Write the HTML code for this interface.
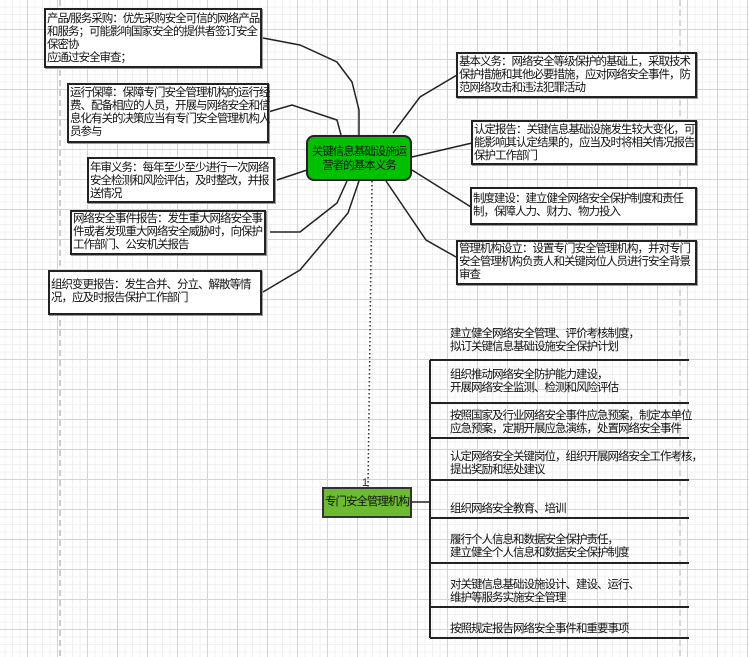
<!DOCTYPE html>
<html><head><meta charset="utf-8"><style>
html,body{margin:0;padding:0}
body{width:749px;height:657px;position:relative;overflow:hidden;background:#fff;
font-family:"Liberation Sans","Noto Sans CJK SC",sans-serif;color:#111;
background-image:
linear-gradient(#d4d4d4 1px,transparent 1px),
linear-gradient(90deg,#d4d4d4 1px,transparent 1px),
linear-gradient(#f0f0f0 1px,transparent 1px),
linear-gradient(90deg,#f0f0f0 1px,transparent 1px);
background-size:30px 30px,30px 30px,7.5px 7.5px,7.5px 7.5px;
background-position:0 29px,27px 0,0 29px,27px 0}
.b,.t,.c,.g{font-size:11.5px;letter-spacing:-1px;line-height:13px;white-space:nowrap}
.b{position:absolute;box-sizing:border-box;border:2px solid #222;background:#fff;padding:1px 1px;box-shadow:1px 1px 0 #999}
.t{position:absolute;color:#111}
svg{position:absolute;left:0;top:0}
</style></head><body>
<svg width="749" height="657">
<line x1="60" y1="0" x2="60" y2="657" stroke="#ccc" stroke-width="2" stroke-dasharray="6,4"/>
<line x1="680" y1="0" x2="680" y2="657" stroke="#ccc" stroke-width="1.5" stroke-dasharray="6,4"/>
<g fill="none" stroke="#222" stroke-width="1.5">
<polyline points="359,135 359,110 352,82 337,62 300,45 263,38"/>
<polyline points="341,135 337,120 292,105 268,112"/>
<polyline points="307,170 277,180"/>
<polyline points="347,181 337,203 300,232 270,232"/>
<polyline points="359,181 348,213 300,270 263,292"/>
<polyline points="393,133 420,97 457,75"/>
<polyline points="412,157 472,143"/>
<polyline points="412,170 471,207"/>
<polyline points="386,181 426,240 456,257"/>
<line x1="412" y1="502" x2="430" y2="502"/>
<line x1="430" y1="360" x2="430" y2="638" stroke-width="2"/>
<line x1="430" y1="360" x2="689" y2="360" stroke-width="2"/>
<line x1="430" y1="403" x2="689" y2="403" stroke-width="2"/>
<line x1="430" y1="438" x2="689" y2="438" stroke-width="2"/>
<line x1="430" y1="480" x2="689" y2="480" stroke-width="2"/>
<line x1="430" y1="518" x2="689" y2="518" stroke-width="2"/>
<line x1="430" y1="563" x2="689" y2="563" stroke-width="2"/>
<line x1="430" y1="607" x2="689" y2="607" stroke-width="2"/>
<line x1="430" y1="638" x2="689" y2="638" stroke-width="2"/>
</g>
<line x1="372" y1="181" x2="368" y2="487" stroke="#333" stroke-width="1.5" stroke-dasharray="1.5,2.5"/>
<text x="362" y="486" font-size="11" fill="#8b0000" font-family="Liberation Sans,sans-serif">1</text>
</svg>

<div class="b" style="left:44px;top:8px;width:218px;height:60px;padding-top:3px">产品/服务采购：优先采购安全可信的网络产品<br>和服务；可能影响国家安全的提供者签订安全<br>保密协<br>应通过安全审查；</div>
<div class="b" style="left:67px;top:83px;width:202px;height:60px;padding-top:2px">运行保障：保障专门安全管理机构的运行经<br>费、配备相应的人员，开展与网络安全和信<br>息化有关的决策应当有专门安全管理机构人<br>员参与</div>
<div class="b" style="left:87px;top:157px;width:188px;height:46px;padding-top:3px">年审义务：每年至少至少进行一次网络<br>安全检测和风险评估，及时整改，并报<br>送情况</div>
<div class="b" style="left:70px;top:210px;width:196px;height:45px;padding-top:1px">网络安全事件报告：发生重大网络安全事<br>件或者发现重大网络安全威胁时，向保护<br>工作部门、公安机关报告</div>
<div class="b" style="left:48px;top:270px;width:214px;height:45px;padding-top:7px">组织变更报告：发生合并、分立、解散等情<br>况，应及时报告保护工作部门</div>

<div class="c" style="position:absolute;left:306px;top:135px;width:106px;height:46px;box-sizing:border-box;border:2px solid #222;border-radius:8px;background:#00c000;text-align:center;padding-top:8px;line-height:14px">关键信息基础设施运<br>营者的基本义务</div>

<div class="b" style="left:456px;top:52px;width:241px;height:46px;padding-top:2px">基本义务：网络安全等级保护的基础上，采取技术<br>保护措施和其他必要措施，应对网络安全事件，防<br>范网络攻击和违法犯罪活动</div>
<div class="b" style="left:471px;top:120px;width:226px;height:45px;padding-top:2px">认定报告：关键信息基础设施发生较大变化，可<br>能影响其认定结果的，应当及时将相关情况报告<br>保护工作部门</div>
<div class="b" style="left:470px;top:187px;width:227px;height:38px;padding-top:4px">制度建设：建立健全网络安全保护制度和责任<br>制，保障人力、财力、物力投入</div>
<div class="b" style="left:456px;top:240px;width:241px;height:45px;padding-top:1px">管理机构设立：设置专门安全管理机构，并对专门<br>安全管理机构负责人和关键岗位人员进行安全背景<br>审查</div>

<div class="g" style="position:absolute;left:322px;top:487px;width:90px;height:31px;box-sizing:border-box;border:2px solid #333;background:#6cbb30;line-height:27px;text-align:center">专门安全管理机构</div>

<div class="t" style="left:450px;top:328px">建立健全网络安全管理、评价考核制度，<br>拟订关键信息基础设施安全保护计划</div>
<div class="t" style="left:450px;top:369px">组织推动网络安全防护能力建设，<br>开展网络安全监测、检测和风险评估</div>
<div class="t" style="left:450px;top:410px">按照国家及行业网络安全事件应急预案，制定本单位<br>应急预案，定期开展应急演练，处置网络安全事件</div>
<div class="t" style="left:450px;top:451px">认定网络安全关键岗位，组织开展网络安全工作考核，<br>提出奖励和惩处建议</div>
<div class="t" style="left:450px;top:503px">组织网络安全教育、培训</div>
<div class="t" style="left:450px;top:534px">履行个人信息和数据安全保护责任，<br>建立健全个人信息和数据安全保护制度</div>
<div class="t" style="left:450px;top:579px">对关键信息基础设施设计、建设、运行、<br>维护等服务实施安全管理</div>
<div class="t" style="left:450px;top:623px">按照规定报告网络安全事件和重要事项</div>
</body></html>
